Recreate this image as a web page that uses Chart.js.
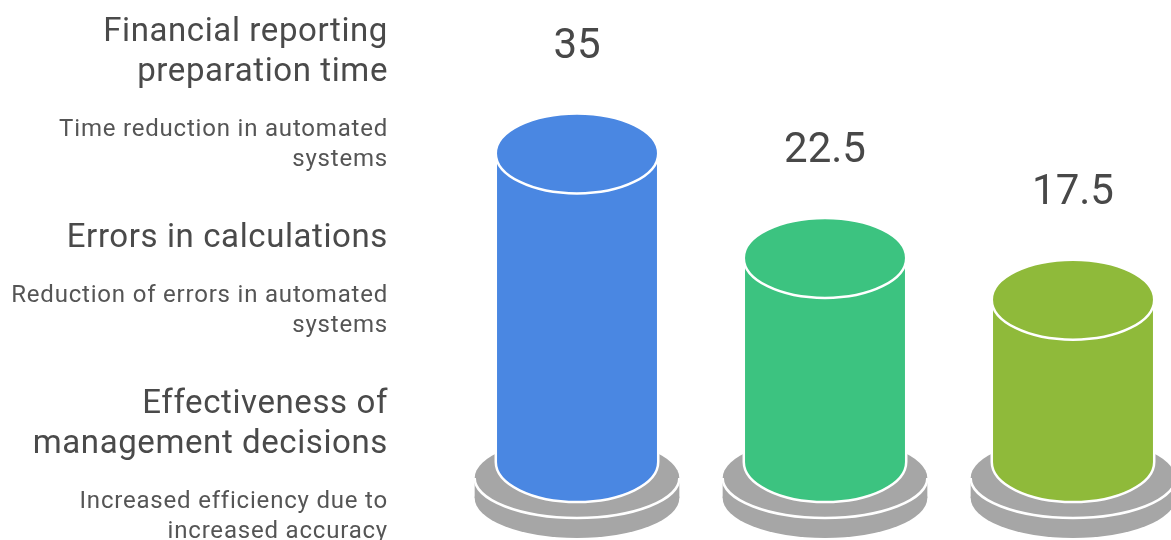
<!DOCTYPE html>
<html>
<head>
<meta charset="utf-8">
<title>Automation impact</title>
<script src="https://cdn.jsdelivr.net/npm/chart.js@4/dist/chart.umd.min.js"></script>
<style>
	html, body { margin: 0; padding: 0; background: #fff; }
	#wrap { width: 1171px; height: 540px; position: relative; }
</style>
</head>
<body>
<div id="wrap"><canvas id="chart" width="1171" height="540"></canvas></div>
<script>
'use strict';

const categories = [
	['Financial reporting', 'preparation time'],
	['Errors in calculations'],
	['Effectiveness of', 'management decisions']
];
const descriptions = [
	['Time reduction in automated', 'systems'],
	['Reduction of errors in automated', 'systems'],
	['Increased efficiency due to', 'increased accuracy']
];
const values = [35, 22.5, 17.5];
const valueLabels = ['35', '22.5', '17.5'];
const colors = ['#4a87e2', '#3cc380', '#8fba3a'];

const FONT = 'Roboto, "Noto Sans", sans-serif';

// draws cylinders on grey pedestals from the bar elements
const cylinders = {
	id: 'cylinders',
	afterDatasetsDraw(chart) {
		const ctx = chart.ctx;
		const meta = chart.getDatasetMeta(0);
		meta.data.forEach((bar, i) => {
			const x = bar.x;
			const rx = bar.width / 2;
			const ry = 40;
			const yTop = bar.y;
			const yBot = bar.base + 16;
			const pedRx = rx * 1.26;
			const pedTop = bar.base + 32;
			const pedBot = pedTop + 20;

			ctx.save();

			// pedestal
			ctx.fillStyle = '#a6a6a6';
			ctx.beginPath();
			ctx.ellipse(x, pedBot, pedRx, ry, 0, 0, Math.PI * 2);
			ctx.fill();
			ctx.fillRect(x - pedRx, pedTop, pedRx * 2, pedBot - pedTop);
			ctx.beginPath();
			ctx.ellipse(x, pedTop, pedRx, ry, 0, 0, Math.PI * 2);
			ctx.fill();
			ctx.strokeStyle = '#ffffff';
			ctx.lineWidth = 2.5;
			ctx.beginPath();
			ctx.ellipse(x, pedTop, pedRx, ry, 0, 0, Math.PI);
			ctx.stroke();

			// body
			ctx.fillStyle = colors[i];
			ctx.beginPath();
			ctx.moveTo(x - rx, yTop);
			ctx.lineTo(x - rx, yBot);
			ctx.ellipse(x, yBot, rx, ry, 0, Math.PI, 0, true);
			ctx.lineTo(x + rx, yTop);
			ctx.ellipse(x, yTop, rx, ry, 0, 0, Math.PI, true);
			ctx.closePath();
			ctx.fill();
			ctx.stroke();

			// top face
			ctx.beginPath();
			ctx.ellipse(x, yTop, rx, ry, 0, 0, Math.PI * 2);
			ctx.fill();
			ctx.stroke();

			// value label
			ctx.fillStyle = '#484848';
			ctx.font = '42px ' + FONT;
			ctx.textAlign = 'center';
			ctx.textBaseline = 'middle';
			ctx.fillText(valueLabels[i], x, yTop - 106);

			ctx.restore();
		});
	}
};

// category titles and descriptions on the left
const sideText = {
	id: 'sideText',
	afterDraw(chart) {
		const ctx = chart.ctx;
		const right = 388;
		let y = 33;
		ctx.save();
		ctx.textAlign = 'right';
		ctx.textBaseline = 'middle';
		categories.forEach((lines, i) => {
			ctx.fillStyle = '#4a4a4a';
			ctx.font = '33px ' + FONT;
			ctx.letterSpacing = '0.6px';
			lines.forEach((l, n) => {
				ctx.fillText(l, right, y);
				if (n < lines.length - 1) { y += 40; }
			});
			y += 57;
			ctx.fillStyle = '#555555';
			ctx.font = '24px ' + FONT;
			ctx.letterSpacing = '0.8px';
			descriptions[i].forEach((l, n) => {
				ctx.fillText(l, right, y);
				if (n < descriptions[i].length - 1) { y += 30; }
			});
			y += 79;
		});
		ctx.restore();
	}
};

new Chart(document.getElementById('chart').getContext('2d'), {
	type: 'bar',
	data: {
		labels: categories,
		datasets: [
			{
				data: values,
				backgroundColor: 'rgba(0,0,0,0)',
				borderWidth: 0,
				categoryPercentage: 1,
				barPercentage: 0.655
			}
		]
	},
	options: {
		responsive: false,
		animation: false,
		layout: {
			padding: { left: 577, right: 98, top: 28, bottom: 94 }
		},
		plugins: {
			legend: { display: false },
			tooltip: { enabled: false }
		},
		scales: {
			x: { display: false, offset: false },
			y: { display: false, min: 0, max: 50 }
		}
	},
	plugins: [cylinders, sideText]
});
</script>
</body>
</html>
